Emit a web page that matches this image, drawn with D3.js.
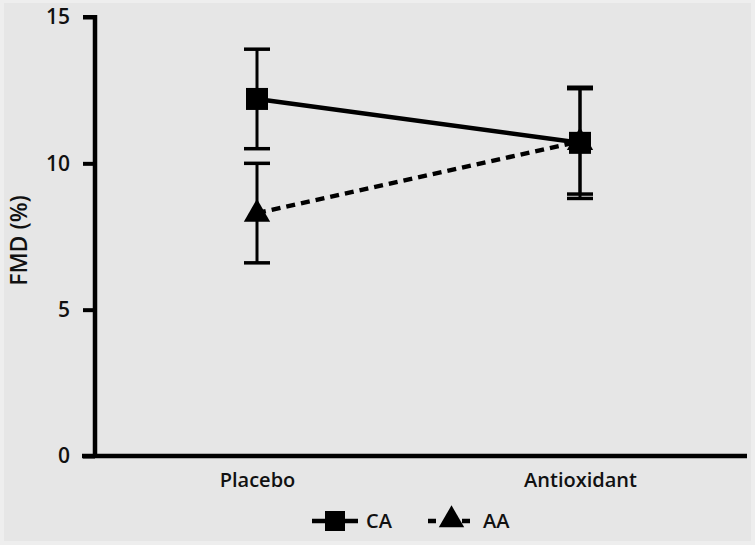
<!DOCTYPE html>
<html>
<head>
<meta charset="utf-8">
<script src="https://cdn.jsdelivr.net/npm/d3@7"></script>
<style>
html,body{margin:0;padding:0;background:#eeeeee;}
svg{display:block;}
text{font-family:"Open Sans","Noto Sans",sans-serif;fill:#111;}
</style>
</head>
<body>
<svg id="chart" width="755" height="545"></svg>
<script>
const categories = ["Placebo", "Antioxidant"];
const seriesNames = ["CA", "AA"];
const caMean = [12.2, 10.7];
const caErr = [1.7, 1.9];
const aaMean = [8.3, 10.75];
const aaErr = [1.7, 1.8];
const yTicks = [0, 5, 10, 15];

const svg = d3.select("#chart");
svg.append("rect").attr("x",4).attr("y",3).attr("width",747).attr("height",538).attr("fill","#e6e6e6");

const x = d3.scalePoint().domain(categories).range([257, 580]);
const y = d3.scaleLinear().domain([0, 15]).range([456, 17]);

// y axis
const yAxis = svg.append("g").attr("transform","translate(95,0)")
  .call(d3.axisLeft(y).tickValues(yTicks).tickSize(12).tickPadding(13));
yAxis.select(".domain").remove();
yAxis.selectAll(".tick line").attr("stroke","#000").attr("stroke-width",4);
yAxis.selectAll(".tick text").attr("font-size",21).attr("font-weight",600).attr("font-family","Open Sans, sans-serif").attr("fill","#111");
svg.append("line").attr("x1",95).attr("x2",95).attr("y1",y(15)-2).attr("y2",y(0)+2)
  .attr("stroke","#000").attr("stroke-width",4.5);
svg.append("line").attr("x1",95).attr("x2",83).attr("y1",y(15)).attr("y2",y(15))
  .attr("stroke","#000").attr("stroke-width",4);

// x axis
const xAxis = svg.append("g").attr("transform",`translate(0,${y(0)})`)
  .call(d3.axisBottom(x).tickSize(0));
xAxis.select(".domain").remove();
xAxis.selectAll(".tick text").attr("y",31).attr("dy",0).attr("font-size",20).attr("font-weight",600)
  .attr("font-family","Open Sans, sans-serif").attr("fill","#111");
svg.append("line").attr("x1",82).attr("x2",747).attr("y1",y(0)).attr("y2",y(0))
  .attr("stroke","#000").attr("stroke-width",4.5);

// y label
svg.append("text").attr("transform",`translate(27,${(y(0)+y(15))/2+4}) rotate(-90)`)
  .attr("text-anchor","middle").attr("font-size",23).attr("font-weight",600).text("FMD (%)");

const series = [
  {name:"AA", mean:aaMean, err:aaErr, dash:"9,6", shape:d3.symbolTriangle, size:300},
  {name:"CA", mean:caMean, err:caErr, dash:null, shape:d3.symbolSquare, size:484}
];
const line = d3.line().x((d,i)=>x(categories[i])).y(d=>y(d));

series.forEach(s=>{
  const g = svg.append("g");
  g.append("path").attr("d", line(s.mean)).attr("fill","none").attr("stroke","#000")
    .attr("stroke-width",4.5).attr("stroke-dasharray", s.dash);
  s.mean.forEach((m,i)=>{
    const cx = x(categories[i]);
    g.append("line").attr("x1",cx).attr("x2",cx).attr("y1",y(m+s.err[i])).attr("y2",y(m-s.err[i]))
      .attr("stroke","#000").attr("stroke-width",3);
    [m+s.err[i], m-s.err[i]].forEach(v=>{
      g.append("line").attr("x1",cx-13).attr("x2",cx+13).attr("y1",y(v)).attr("y2",y(v))
        .attr("stroke","#000").attr("stroke-width",3.5);
    });
    g.append("path").attr("d", d3.symbol().type(s.shape).size(s.size)())
      .attr("transform",`translate(${cx},${y(m) + (s.shape===d3.symbolTriangle?1:0)})`).attr("fill","#000");
  });
});

// legend
const legend = svg.append("g").attr("transform","translate(0,521)");
const legItems = [
  {name:"CA", x0:312, x1:358, dash:null, shape:d3.symbolSquare, size:400, tx:366},
  {name:"AA", x0:428, x1:475, dash:"8,9", shape:d3.symbolTriangle, size:280, tx:483}
];
legItems.forEach(l=>{
  legend.append("line").attr("x1",l.x0).attr("x2",l.x1).attr("y1",0).attr("y2",0)
    .attr("stroke","#000").attr("stroke-width",4.5).attr("stroke-dasharray",l.dash);
  legend.append("path").attr("d", d3.symbol().type(l.shape).size(l.size)())
    .attr("transform",`translate(${(l.x0+l.x1)/2},${l.shape===d3.symbolTriangle?-1:0})`).attr("fill","#000");
  legend.append("text").attr("x",l.tx).attr("y",7).attr("font-size",20).attr("font-weight",600).text(l.name);
});
</script>
</body>
</html>
